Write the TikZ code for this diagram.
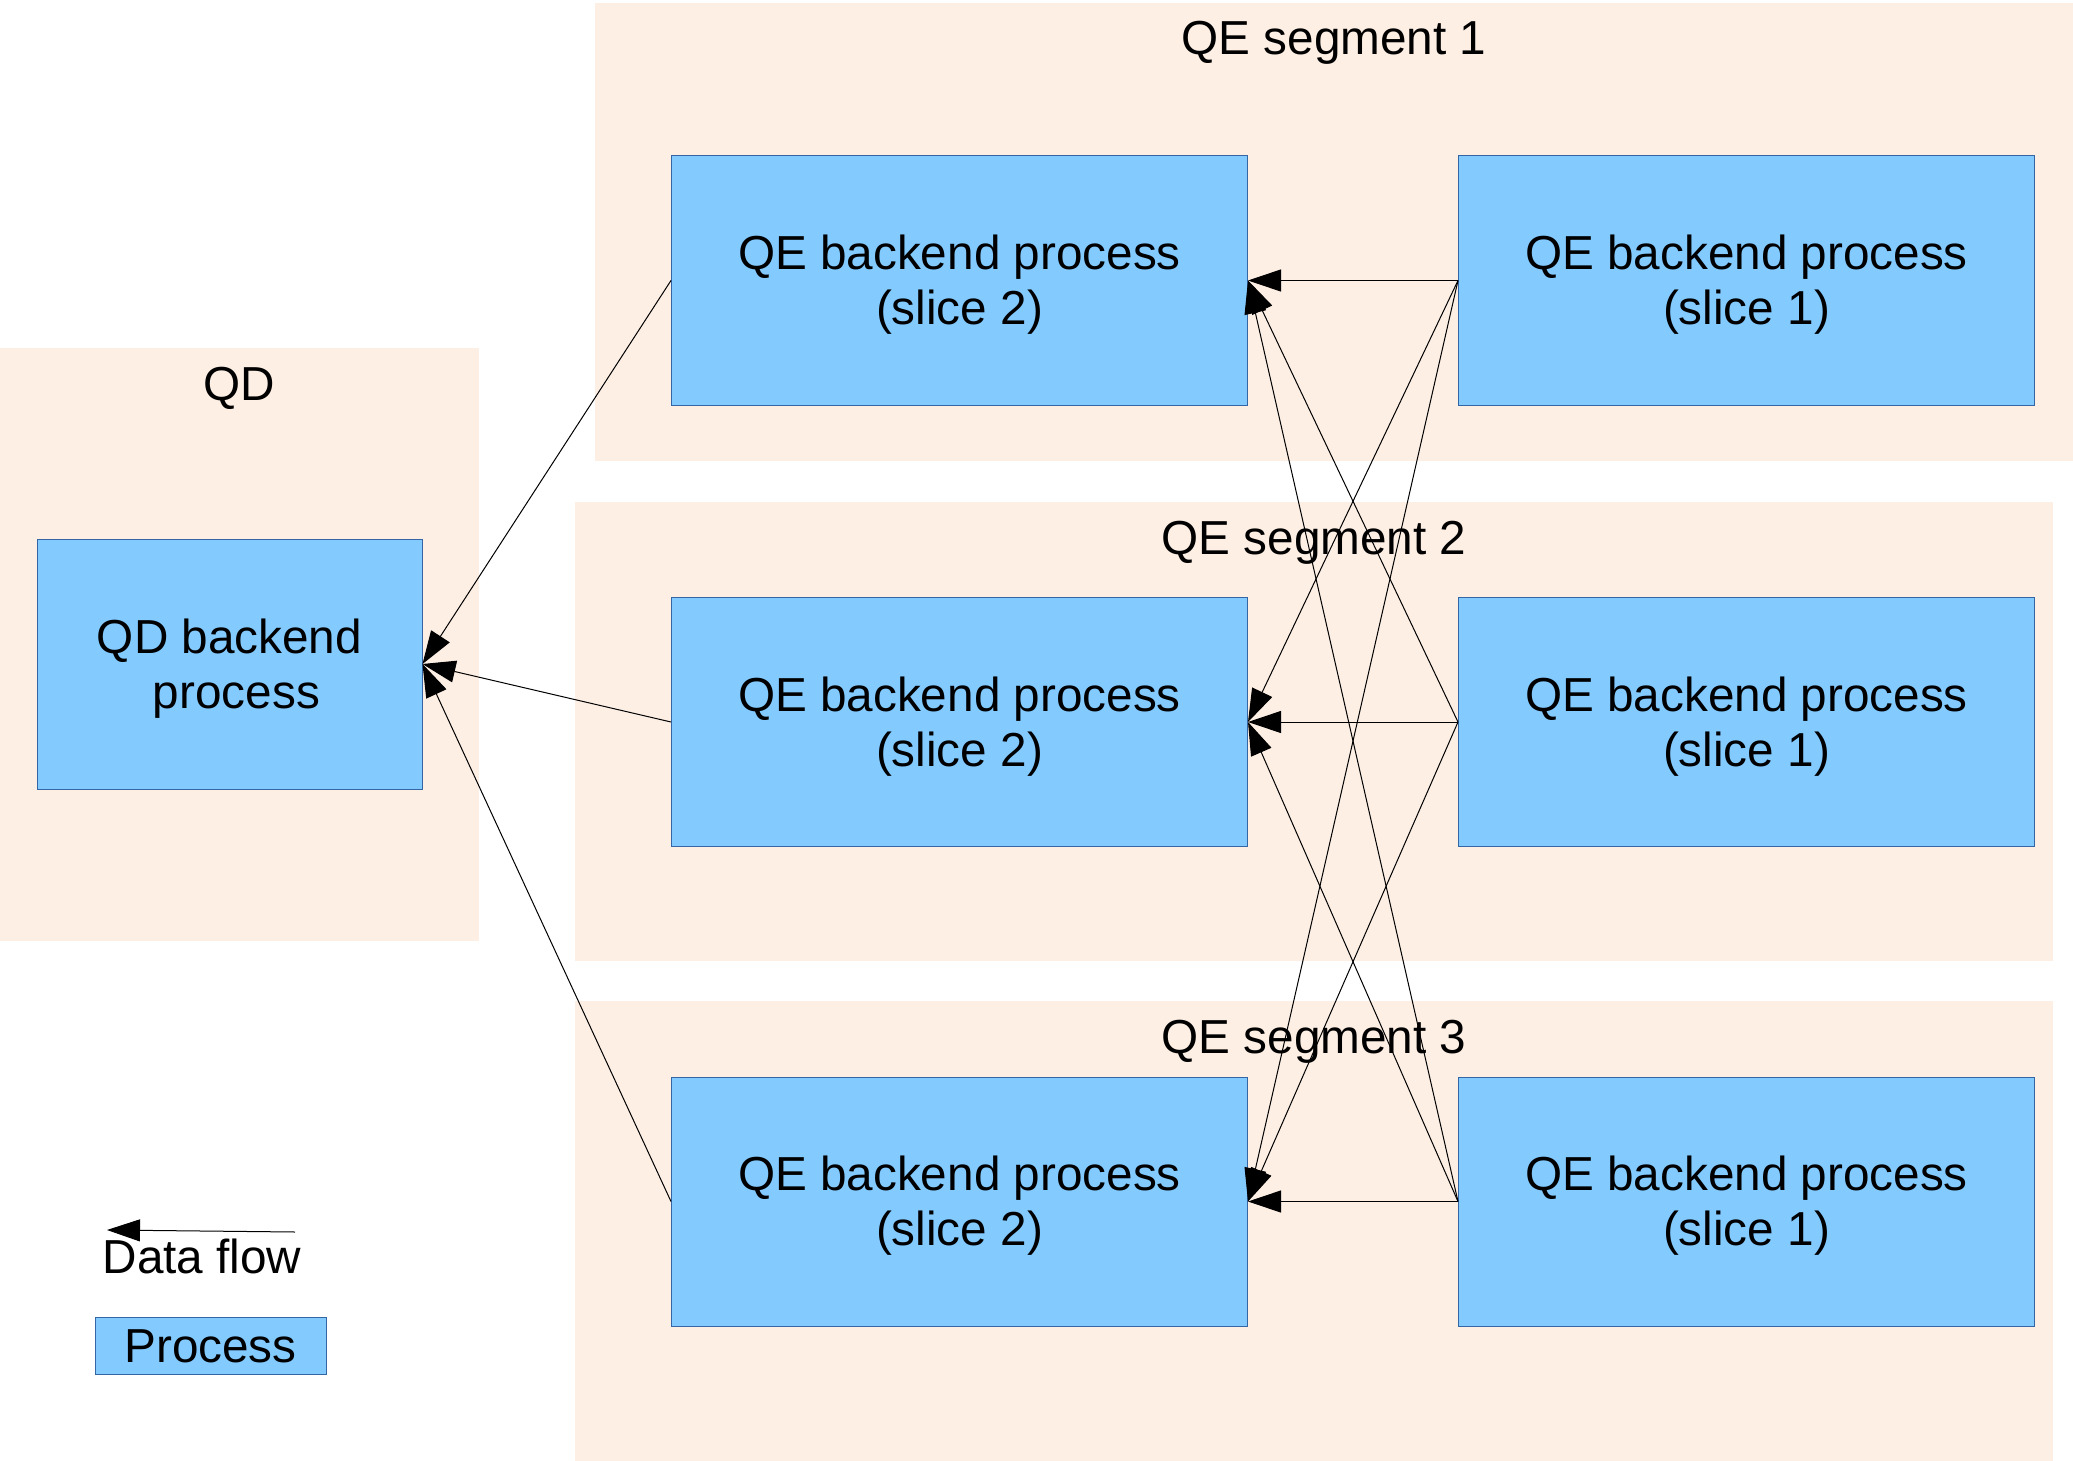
\documentclass[tikz,border=0pt]{standalone}
\usepackage{fontspec}
\setmainfont{Liberation Sans}
\usetikzlibrary{arrows.meta}
\definecolor{bgpeach}{HTML}{FDEFE4}
\definecolor{procfill}{HTML}{83CAFF}
\definecolor{procline}{HTML}{3465A4}
\newcommand\fstrut{\rule[-0.212em]{0pt}{1.117em}}
\tikzset{
  segbg/.style={fill=bgpeach, draw=none, inner sep=0pt, minimum width=#1},
  proc/.style={fill=procfill, draw=procline, line width=0.5pt, inner sep=0pt, align=center,
    minimum width=288pt, minimum height=124.5pt},
  lbl/.style={inner sep=0pt, align=center, anchor=base},
  flow/.style={line width=0.5pt, -{Triangle[length=16.5pt,width=11pt]}},
}
\begin{document}
\begin{tikzpicture}[x=0.5pt, y=-0.5pt, font=\fontsize{23.85}{27.5}\selectfont]
\useasboundingbox (0,0) rectangle (2073,1461);
\fill[white] (0,0) rectangle (2073,1461);
% backgrounds
\node[segbg=739pt, minimum height=229pt, anchor=north west] (seg1) at (595,3) {};
\node[segbg=739pt, minimum height=229.5pt, anchor=north west] (seg2) at (575,502) {};
\node[segbg=739pt, minimum height=230pt, anchor=north west] (seg3) at (575,1001) {};
\node[segbg=239.5pt, minimum height=296.5pt, anchor=north west] (qdbg) at (0,348) {};
% labels
\node[lbl] (l1) at (1334,55) {QE segment 1};
\node[lbl] (l2) at (1314,554) {QE segment 2};
\node[lbl] (l3) at (1314,1053) {QE segment 3};
\node[lbl] (lqd) at (239,400) {QD};
% process boxes
\node[proc] (a2) at (959.5,280.5) {\fstrut QE backend process\\\fstrut(slice 2)};
\node[proc] (a1) at (1746.5,280.5) {\fstrut QE backend process\\\fstrut(slice 1)};
\node[proc] (b2) at (959.5,722) {\fstrut QE backend process\\\fstrut(slice 2)};
\node[proc] (b1) at (1746.5,722) {\fstrut QE backend process\\\fstrut(slice 1)};
\node[proc] (c2) at (959.5,1201.5) {\fstrut QE backend process\\\fstrut(slice 2)};
\node[proc] (c1) at (1746.5,1201.5) {\fstrut QE backend process\\\fstrut(slice 1)};
\node[proc, minimum width=192.5pt, minimum height=125pt] (qd) at (229.5,664) {\fstrut QD backend\\\fstrut\hspace*{7pt}process};
% connectors
\foreach \s in {a1,b1,c1}{
  \foreach \t in {a2,b2,c2}{
    \draw[flow] (\s.west) -- (\t.east);
  }
}
\foreach \t in {a2,b2,c2}{
  \draw[flow] (\t.west) -- (qd.east);
}
% legend
\coordinate (lgs) at (295,1232);
\coordinate (lge) at (107,1230);
\draw[flow] (lgs) -- (lge);
\node[lbl] (lgt) at (202,1273) {Data flow};
\node[proc, minimum width=115.5pt, minimum height=28.5pt] (lgp) at (210.5,1345.5) {\fstrut Process};
\end{tikzpicture}
\end{document}
